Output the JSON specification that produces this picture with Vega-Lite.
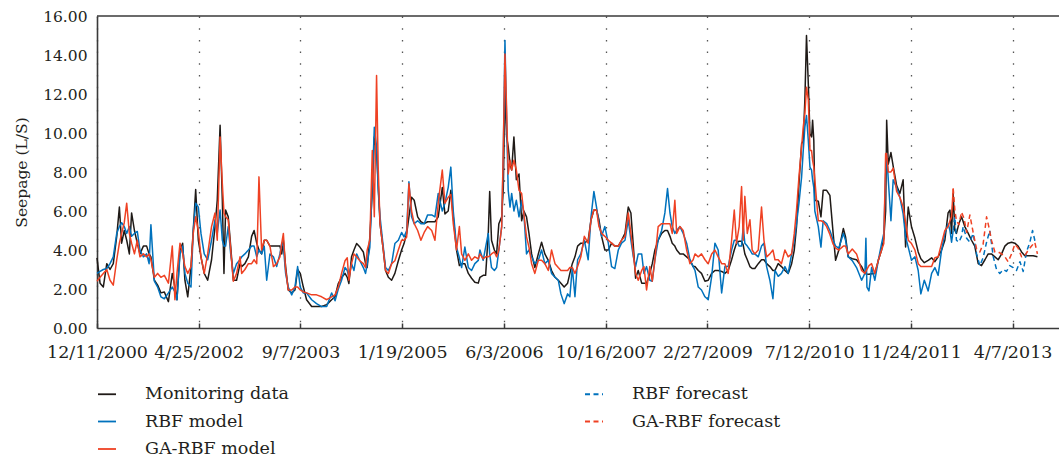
{
"$schema": "https://vega.github.io/schema/vega-lite/v6.json",
"width": 962, "height": 312,
"autosize": "none",
"padding": {"left": 97, "top": 16, "right": 0, "bottom": 135},
"background": "white",
"config": {"view": {"stroke": null}, "font": "DejaVu Serif", "axis": {"labelColor": "#231f20", "titleColor": "#231f20", "labelFont": "DejaVu Serif", "titleFont": "DejaVu Serif"}, "axisY": {"labelOverlap": false}, "legend": {"labelFont": "DejaVu Serif", "labelColor": "#231f20"}},
"layer": [
{
"data": {"values": [
{"day":0,"m":3.6,"r":2.8,"g":2.4},{"day":15,"m":2.3,"r":2.9,"g":2.6},{"day":31,"m":2.1,"r":3.0,"g":2.8},{"day":48,"m":3.3,"r":3.05,"g":3.0},{"day":64,"m":3.0,"r":3.3,"g":2.45},{"day":80,"m":3.3,"r":3.65,"g":2.2},{"day":97,"m":4.7,"r":4.85,"g":3.5},{"day":110,"m":6.2,"r":5.2,"g":4.35},{"day":121,"m":4.35,"r":5.4,"g":4.85},{"day":134,"m":5.0,"r":5.2,"g":5.4},{"day":146,"m":4.5,"r":4.85,"g":6.4},{"day":159,"m":3.8,"r":5.2,"g":4.85},{"day":170,"m":5.9,"r":4.7,"g":4.35},{"day":184,"m":5.0,"r":4.85,"g":3.8},{"day":198,"m":4.35,"r":4.95,"g":4.5},{"day":211,"m":3.8,"r":4.0,"g":3.65},{"day":228,"m":4.2,"r":3.65,"g":3.8},{"day":244,"m":4.2,"r":3.8,"g":3.65},{"day":256,"m":3.8,"r":3.3,"g":3.8},{"day":265,"m":3.65,"r":5.3,"g":3.5},{"day":282,"m":2.45,"r":2.4,"g":2.6},{"day":298,"m":2.2,"r":2.1,"g":2.8},{"day":314,"m":1.8,"r":1.6,"g":2.6},{"day":331,"m":1.85,"r":1.5,"g":2.7},{"day":351,"m":1.35,"r":1.8,"g":2.3},{"day":370,"m":2.8,"r":2.1,"g":4.2},{"day":383,"m":2.1,"r":1.85,"g":1.45},{"day":393,"m":1.45,"r":1.45,"g":2.8},{"day":408,"m":4.0,"r":3.8,"g":4.35},{"day":421,"m":4.35,"r":4.2,"g":3.8},{"day":432,"m":2.45,"r":2.8,"g":3.15},{"day":446,"m":1.6,"r":2.3,"g":2.8},{"day":462,"m":3.15,"r":2.1,"g":3.15},{"day":473,"m":5.0,"r":5.0,"g":4.85},{"day":485,"m":7.1,"r":6.4,"g":5.7},{"day":498,"m":4.5,"r":6.2,"g":5.0},{"day":511,"m":3.65,"r":4.85,"g":3.65},{"day":527,"m":2.8,"r":3.8,"g":2.8},{"day":544,"m":2.45,"r":3.5,"g":3.8},{"day":563,"m":3.5,"r":4.5,"g":5.2},{"day":580,"m":5.2,"r":5.55,"g":5.9},{"day":591,"m":6.55,"r":4.85,"g":4.5},
{"day":605,"m":10.4,"r":6.05,"g":9.8},{"day":616,"m":6.55,"r":4.5,"g":7.4},{"day":624,"m":2.8,"r":4.2,"g":5.9},{"day":632,"m":6.05,"r":4.2,"g":5.7},{"day":645,"m":5.7,"r":5.2,"g":5.55},{"day":657,"m":4.2,"r":3.8,"g":4.0},{"day":670,"m":2.45,"r":2.8,"g":2.4},{"day":686,"m":2.45,"r":3.3,"g":2.8},{"day":703,"m":3.3,"r":3.5,"g":3.65},{"day":711,"m":3.15,"r":3.65,"g":2.8},{"day":727,"m":3.3,"r":3.8,"g":3.0},{"day":744,"m":3.65,"r":4.0,"g":3.3},{"day":760,"m":4.7,"r":4.2,"g":3.3},{"day":772,"m":5.0,"r":4.2,"g":3.5},{"day":785,"m":4.35,"r":3.65,"g":3.3},{"day":796,"m":4.0,"r":4.0,"g":7.75},{"day":809,"m":3.8,"r":3.8,"g":4.0},{"day":822,"m":4.5,"r":4.2,"g":4.5},{"day":834,"m":4.5,"r":2.45,"g":4.5},{"day":850,"m":4.2,"r":3.8,"g":4.2},{"day":867,"m":4.2,"r":3.65,"g":3.15},{"day":883,"m":4.2,"r":3.15,"g":3.3},{"day":899,"m":4.2,"r":3.8,"g":3.65},{"day":908,"m":3.8,"r":4.35,"g":4.35},{"day":916,"m":4.5,"r":4.2,"g":4.85},{"day":927,"m":3.15,"r":2.8,"g":3.0},{"day":940,"m":1.95,"r":2.1,"g":1.95},{"day":957,"m":1.8,"r":1.7,"g":1.95},{"day":973,"m":1.95,"r":2.1,"g":2.1},{"day":986,"m":3.0,"r":3.15,"g":2.1},{"day":999,"m":2.8,"r":2.1,"g":1.95},{"day":1014,"m":2.1,"r":1.8,"g":1.85},{"day":1030,"m":1.45,"r":1.8,"g":1.8},{"day":1055,"m":1.1,"r":1.45,"g":1.7},{"day":1079,"m":1.1,"r":1.25,"g":1.7},{"day":1104,"m":1.1,"r":1.1,"g":1.6},{"day":1129,"m":1.2,"r":1.1,"g":1.45},{"day":1153,"m":1.45,"r":1.8,"g":1.6},
{"day":1170,"m":1.6,"r":1.4,"g":1.7},{"day":1186,"m":2.28,"r":2.0,"g":2.1},{"day":1202,"m":2.6,"r":2.45,"g":2.8},{"day":1219,"m":2.8,"r":3.1,"g":3.45},{"day":1230,"m":2.6,"r":2.95,"g":3.6},{"day":1238,"m":2.28,"r":2.6,"g":2.45},{"day":1251,"m":3.65,"r":3.3,"g":3.3},{"day":1263,"m":4.0,"r":2.95,"g":3.8},{"day":1276,"m":4.33,"r":3.8,"g":3.65},{"day":1292,"m":4.15,"r":3.45,"g":3.45},{"day":1309,"m":3.9,"r":3.1,"g":3.3},{"day":1320,"m":3.3,"r":2.8,"g":3.1},{"day":1328,"m":3.1,"r":3.3,"g":4.0},{"day":1341,"m":4.67,"r":4.15,"g":4.5},{"day":1353,"m":7.06,"r":7.4,"g":9.1},{"day":1363,"m":9.8,"r":10.3,"g":5.7},{"day":1374,"m":9.1,"r":9.3,"g":12.95},{"day":1382,"m":7.4,"r":7.06,"g":8.25},{"day":1391,"m":5.35,"r":5.7,"g":5.35},{"day":1407,"m":4.0,"r":4.15,"g":4.0},{"day":1418,"m":2.95,"r":3.1,"g":2.95},{"day":1432,"m":2.6,"r":2.95,"g":2.8},{"day":1448,"m":2.45,"r":3.3,"g":3.3},{"day":1464,"m":2.8,"r":4.33,"g":3.45},{"day":1481,"m":3.45,"r":4.5,"g":4.0},{"day":1497,"m":4.0,"r":4.9,"g":4.5},{"day":1509,"m":4.33,"r":4.67,"g":4.5},{"day":1522,"m":4.85,"r":5.0,"g":4.67},{"day":1533,"m":5.7,"r":7.5,"g":7.4},{"day":1546,"m":6.7,"r":5.7,"g":6.0},{"day":1559,"m":6.55,"r":5.35,"g":5.35},{"day":1576,"m":5.7,"r":5.5,"g":5.0},{"day":1592,"m":5.45,"r":5.35,"g":4.5},{"day":1608,"m":5.35,"r":5.35,"g":4.9},{"day":1625,"m":5.45,"r":5.8,"g":5.2},{"day":1645,"m":5.45,"r":5.8,"g":5.0},{"day":1661,"m":5.45,"r":5.7,"g":4.5},{"day":1677,"m":5.7,"r":6.9,"g":6.4},{"day":1697,"m":7.2,"r":6.0,"g":8.1},{"day":1710,"m":5.85,"r":6.4,"g":6.4},{"day":1726,"m":6.0,"r":7.2,"g":6.7},{"day":1739,"m":7.06,"r":8.25,"g":6.85},{"day":1751,"m":5.7,"r":6.0,"g":5.35},{"day":1767,"m":4.0,"r":4.15,"g":4.0},
{"day":1781,"m":3.2,"r":3.6,"g":5.2},{"day":1792,"m":3.3,"r":3.1,"g":3.8},{"day":1808,"m":3.3,"r":4.15,"g":3.47},{"day":1825,"m":2.8,"r":3.1,"g":3.8},{"day":1841,"m":2.55,"r":2.95,"g":3.47},{"day":1857,"m":2.35,"r":3.3,"g":3.65},{"day":1874,"m":2.3,"r":3.47,"g":3.55},{"day":1882,"m":2.6,"r":4.0,"g":3.8},{"day":1898,"m":2.7,"r":3.47,"g":3.55},{"day":1910,"m":2.7,"r":4.15,"g":3.65},{"day":1923,"m":4.85,"r":4.85,"g":3.65},{"day":1930,"m":7.0,"r":3.8,"g":3.7},{"day":1939,"m":4.5,"r":3.1,"g":3.8},{"day":1953,"m":4.0,"r":2.95,"g":3.9},{"day":1964,"m":3.8,"r":3.1,"g":3.65},{"day":1975,"m":5.35,"r":4.0,"g":4.0},{"day":1989,"m":5.7,"r":5.2,"g":5.2},{"day":1997,"m":7.2,"r":8.9,"g":9.3},{"day":2005,"m":12.35,"r":14.75,"g":14.05},{"day":2013,"m":9.8,"r":10.65,"g":11.3},{"day":2021,"m":9.3,"r":7.06,"g":7.9},{"day":2030,"m":8.4,"r":6.2,"g":8.6},{"day":2038,"m":8.1,"r":6.9,"g":8.1},{"day":2049,"m":9.8,"r":6.0,"g":8.6},{"day":2061,"m":7.6,"r":6.55,"g":8.1},{"day":2074,"m":7.9,"r":5.7,"g":7.06},{"day":2087,"m":5.5,"r":6.55,"g":6.9},{"day":2098,"m":6.0,"r":5.85,"g":5.85},{"day":2111,"m":5.7,"r":3.8,"g":4.67},{"day":2123,"m":4.85,"r":4.0,"g":4.15},{"day":2136,"m":3.8,"r":3.65,"g":3.3},{"day":2152,"m":3.1,"r":3.3,"g":2.8},{"day":2169,"m":3.8,"r":3.47,"g":3.47},{"day":2185,"m":4.4,"r":4.0,"g":3.47},{"day":2201,"m":3.8,"r":3.3,"g":3.3},{"day":2218,"m":3.47,"r":3.47,"g":2.95},{"day":2234,"m":2.95,"r":2.8,"g":4.0},{"day":2251,"m":2.6,"r":2.6,"g":3.3},{"day":2267,"m":2.45,"r":2.45,"g":3.1},{"day":2280,"m":2.3,"r":1.75,"g":2.95},{"day":2296,"m":2.1,"r":1.25,"g":2.95},{"day":2313,"m":2.3,"r":1.75,"g":2.95},{"day":2324,"m":2.8,"r":1.6,"g":3.1},{"day":2336,"m":3.3,"r":3.1,"g":3.1},
{"day":2349,"m":3.65,"r":1.6,"g":2.8},{"day":2362,"m":4.2,"r":3.5,"g":3.15},{"day":2378,"m":4.35,"r":3.8,"g":3.65},{"day":2395,"m":4.35,"r":4.5,"g":4.7},{"day":2414,"m":4.5,"r":3.5,"g":4.35},{"day":2428,"m":5.55,"r":5.7,"g":5.55},{"day":2442,"m":6.05,"r":7.0,"g":6.05},{"day":2455,"m":6.05,"r":6.2,"g":6.05},{"day":2467,"m":5.55,"r":5.35,"g":5.2},{"day":2480,"m":4.7,"r":4.7,"g":4.85},{"day":2496,"m":4.0,"r":5.2,"g":4.7},{"day":2513,"m":4.0,"r":4.35,"g":4.5},{"day":2529,"m":4.35,"r":3.15,"g":4.35},{"day":2545,"m":4.2,"r":3.05,"g":4.2},{"day":2562,"m":4.2,"r":4.0,"g":4.2},{"day":2578,"m":4.5,"r":4.35,"g":4.5},{"day":2595,"m":4.85,"r":4.5,"g":4.7},{"day":2611,"m":6.2,"r":5.55,"g":5.9},{"day":2624,"m":5.9,"r":4.5,"g":4.85},{"day":2636,"m":4.2,"r":3.65,"g":3.8},{"day":2647,"m":2.55,"r":3.15,"g":2.8},{"day":2660,"m":2.95,"r":3.8,"g":2.45},{"day":2677,"m":2.3,"r":3.8,"g":2.95},{"day":2688,"m":2.3,"r":2.8,"g":3.15},{"day":2701,"m":2.3,"r":3.15,"g":1.95},{"day":2717,"m":2.8,"r":2.45,"g":3.15},{"day":2729,"m":3.3,"r":2.4,"g":2.4},{"day":2742,"m":4.0,"r":3.5,"g":3.5},{"day":2758,"m":4.5,"r":4.5,"g":5.2},{"day":2775,"m":4.85,"r":5.0,"g":5.35},{"day":2791,"m":5.0,"r":5.9,"g":5.35},{"day":2804,"m":5.0,"r":7.15,"g":5.35},{"day":2816,"m":4.7,"r":5.9,"g":5.35},{"day":2827,"m":4.35,"r":5.2,"g":4.85},{"day":2840,"m":4.2,"r":4.85,"g":6.55},{"day":2849,"m":4.0,"r":5.0,"g":4.85},{"day":2865,"m":3.8,"r":5.2,"g":5.2},{"day":2881,"m":3.8,"r":4.85,"g":5.0},{"day":2898,"m":3.65,"r":4.35,"g":4.0},{"day":2914,"m":3.5,"r":3.5,"g":3.3},{"day":2930,"m":3.15,"r":3.15,"g":3.5},
{"day":2939,"m":3.15,"r":2.95,"g":3.8},{"day":2955,"m":2.95,"r":2.1,"g":3.65},{"day":2971,"m":2.8,"r":1.95,"g":3.8},{"day":2988,"m":2.4,"r":1.6,"g":3.5},{"day":3004,"m":2.45,"r":1.45,"g":3.3},{"day":3021,"m":2.8,"r":2.65,"g":3.8},{"day":3037,"m":2.95,"r":4.35,"g":4.0},{"day":3053,"m":2.95,"r":4.0,"g":3.65},{"day":3070,"m":2.9,"r":1.8,"g":3.3},{"day":3086,"m":2.8,"r":3.15,"g":3.3},{"day":3102,"m":2.95,"r":3.15,"g":2.8},{"day":3119,"m":3.5,"r":4.0,"g":4.5},{"day":3132,"m":4.0,"r":4.5,"g":6.05},{"day":3143,"m":4.35,"r":4.5,"g":4.35},{"day":3156,"m":4.45,"r":4.2,"g":5.2},{"day":3168,"m":4.45,"r":4.2,"g":7.25},{"day":3176,"m":4.25,"r":5.2,"g":4.5},{"day":3184,"m":3.8,"r":4.35,"g":6.75},{"day":3196,"m":3.5,"r":4.2,"g":4.85},{"day":3209,"m":3.15,"r":4.0,"g":5.55},{"day":3220,"m":3.05,"r":3.8,"g":4.0},{"day":3233,"m":3.05,"r":3.8,"g":3.8},{"day":3250,"m":3.3,"r":3.65,"g":4.0},{"day":3266,"m":3.5,"r":4.2,"g":6.2},{"day":3278,"m":3.5,"r":4.35,"g":4.5},{"day":3291,"m":3.3,"r":3.15,"g":3.65},{"day":3307,"m":3.15,"r":2.45,"g":3.8},{"day":3322,"m":2.95,"r":1.5,"g":4.0},{"day":3332,"m":2.95,"r":2.95,"g":3.5},{"day":3348,"m":3.3,"r":2.65,"g":3.5},{"day":3364,"m":3.15,"r":2.8,"g":3.3},{"day":3381,"m":2.95,"r":3.15,"g":4.0},{"day":3397,"m":2.8,"r":2.8,"g":3.65},{"day":3414,"m":3.3,"r":3.8,"g":3.8},{"day":3427,"m":4.0,"r":4.5,"g":4.85},{"day":3438,"m":5.2,"r":5.35,"g":6.05},{"day":3450,"m":7.4,"r":6.4,"g":7.75},{"day":3463,"m":9.45,"r":7.75,"g":9.3},
{"day":3471,"m":9.6,"r":9.1,"g":10.3},{"day":3479,"m":11.7,"r":10.3,"g":11.0},{"day":3487,"m":15.0,"r":10.9,"g":12.35},{"day":3496,"m":12.5,"r":9.6,"g":11.7},{"day":3504,"m":9.95,"r":8.25,"g":9.1},{"day":3512,"m":9.8,"r":8.1,"g":9.1},{"day":3517,"m":10.65,"r":7.6,"g":8.6},{"day":3523,"m":9.6,"r":7.2,"g":8.25},
{"day":3528,"m":6.55,"r":6.0,"g":7.6},{"day":3545,"m":6.5,"r":5.2,"g":5.5},{"day":3558,"m":5.7,"r":4.15,"g":5.5},{"day":3569,"m":7.06,"r":5.5,"g":5.45},{"day":3586,"m":7.06,"r":5.35,"g":5.2},{"day":3602,"m":6.8,"r":5.0,"g":4.8},{"day":3618,"m":4.85,"r":4.5,"g":4.3},{"day":3630,"m":3.47,"r":4.2,"g":4.1},{"day":3646,"m":4.0,"r":4.1,"g":4.0},{"day":3668,"m":5.1,"r":4.85,"g":4.2},{"day":3679,"m":4.67,"r":4.5,"g":4.2},{"day":3692,"m":3.65,"r":3.65,"g":3.8},{"day":3712,"m":3.55,"r":3.45,"g":4.05},{"day":3733,"m":3.5,"r":3.1,"g":3.8},{"day":3758,"m":3.15,"r":2.45,"g":2.95},{"day":3774,"m":2.8,"r":2.8,"g":2.8},{"day":3779,"m":2.78,"r":4.6,"g":2.9},{"day":3784,"m":2.77,"r":2.1,"g":3.0},{"day":3794,"m":2.76,"r":1.9,"g":3.2},{"day":3807,"m":2.78,"r":3.1,"g":3.3},{"day":3823,"m":2.8,"r":2.45,"g":2.8},{"day":3840,"m":3.47,"r":3.47,"g":3.47},{"day":3856,"m":4.0,"r":4.33,"g":4.0},{"day":3867,"m":4.6,"r":4.85,"g":4.33},{"day":3876,"m":6.0,"r":7.9,"g":8.95},{"day":3881,"m":10.65,"r":8.95,"g":8.95},{"day":3889,"m":8.4,"r":7.6,"g":8.0},{"day":3902,"m":9.0,"r":5.5,"g":8.0},{"day":3913,"m":8.3,"r":7.6,"g":8.2},{"day":3930,"m":7.3,"r":7.2,"g":7.0},{"day":3946,"m":6.9,"r":6.7,"g":6.7},{"day":3962,"m":7.6,"r":5.85,"g":6.2},{"day":3974,"m":4.15,"r":4.67,"g":5.4},{"day":3987,"m":6.2,"r":4.15,"g":4.5},{"day":4003,"m":5.2,"r":3.47,"g":4.33},{"day":4020,"m":4.6,"r":3.65,"g":4.0},{"day":4036,"m":3.9,"r":2.95,"g":3.3},{"day":4049,"m":3.55,"r":1.75,"g":3.15},{"day":4066,"m":3.35,"r":2.45,"g":3.15},{"day":4085,"m":3.47,"r":1.9,"g":3.15},{"day":4102,"m":3.6,"r":2.8,"g":3.15},
{"day":4118,"m":3.4,"r":3.1,"g":3.6},{"day":4134,"m":3.65,"r":2.7,"g":3.65},{"day":4151,"m":4.0,"r":4.0,"g":4.35},{"day":4167,"m":4.5,"r":4.85,"g":5.0},{"day":4183,"m":5.9,"r":5.35,"g":5.2},{"day":4192,"m":6.05,"r":5.0,"g":5.5},{"day":4200,"m":4.85,"r":4.4,"g":5.7},{"day":4208,"m":6.9,"r":5.0,"g":7.15,"rf":5.0,"gf":7.15},
{"day":4216,"m":5.0,"rf":5.7,"gf":6.05},{"day":4224,"m":4.85,"rf":4.5,"gf":5.5},{"day":4236,"m":5.35,"rf":4.4,"gf":5.3},{"day":4249,"m":5.7,"rf":4.7,"gf":5.95},{"day":4257,"rf":5.2},{"day":4262,"gf":5.6},{"day":4265,"m":5.2},{"day":4274,"rf":4.6,"gf":4.9},{"day":4282,"m":4.85},{"day":4290,"rf":4.4,"gf":5.8},{"day":4298,"m":4.5},{"day":4306,"rf":4.85,"gf":4.9},{"day":4314,"m":4.2},{"day":4323,"rf":3.8,"gf":4.05},{"day":4331,"m":3.3},{"day":4339,"rf":3.2,"gf":3.9},{"day":4347,"m":3.2},{"day":4355,"rf":3.6,"gf":4.3},{"day":4364,"m":3.5},{"day":4372,"rf":4.4,"gf":5.7},{"day":4380,"m":3.8},{"day":4383,"gf":5.2},{"day":4388,"rf":5.0},{"day":4396,"m":3.8,"gf":4.5},{"day":4405,"rf":3.65},{"day":4413,"m":3.65,"gf":3.9},{"day":4421,"rf":3.0},{"day":4429,"m":3.5,"gf":3.9},{"day":4437,"rf":2.8},{"day":4446,"m":3.8,"gf":3.8},{"day":4454,"rf":3.0},{"day":4462,"m":4.2,"gf":3.65},{"day":4470,"rf":2.9},{"day":4478,"m":4.35,"gf":3.4},{"day":4486,"rf":3.2},{"day":4495,"m":4.4,"gf":3.8},{"day":4503,"rf":3.1},{"day":4511,"m":4.35,"gf":4.3},{"day":4519,"rf":2.95},{"day":4527,"m":4.2,"gf":4.1},{"day":4536,"rf":3.4},{"day":4544,"m":3.9,"gf":3.65},{"day":4552,"rf":2.9},{"day":4560,"m":3.7,"gf":3.7},{"day":4568,"rf":3.9},{"day":4577,"m":3.7,"gf":4.0},{"day":4585,"rf":4.4},{"day":4593,"gf":4.2},{"day":4598,"rf":5.0},{"day":4601,"m":3.7},{"day":4609,"rf":4.5,"gf":4.4},{"day":4622,"m":3.65,"rf":4.6,"gf":3.8}
]},
"transform": [
{"fold": ["m", "r", "g", "rf", "gf"], "as": ["s", "v"]},
{"filter": "isValid(datum.v)"}
],
"mark": {"type": "line", "strokeWidth": 1.5, "strokeJoin": "round", "strokeCap": "butt"},
"encoding": {
"x": {"field": "day", "type": "quantitative",
 "scale": {"domain": [0, 4728], "nice": false, "zero": false},
 "axis": {"title": null, "values": [0,500,1000,1500,2000,2500,3000,3500,4000,4500],
  "labelExpr": "timeFormat(datetime(2000, 11, 11 + datum.value), '%-m/%-d/%Y')",
  "grid": true, "gridDash": [1.5, 10.2], "gridColor": "#555555", "gridWidth": 1.3,
  "tickSize": -5, "tickColor": "#3a3a3a", "tickWidth": 1.5,
  "domainColor": "#3a3a3a", "domainWidth": 1.6,
  "labelFontSize": 17.5, "labelPadding": 20, "labelFlush": false, "labelOverlap": false}},
"y": {"field": "v", "type": "quantitative",
 "scale": {"domain": [0, 16], "nice": false},
 "axis": {"title": "Seepage (L/S)", "values": [0,2,4,6,8,10,12,14,16], "format": ".2f",
  "grid": false, "ticks": false, "domainColor": "#3a3a3a", "domainWidth": 1.6, "labelOverlap": false,
  "labelFontSize": 15.5, "labelPadding": 10, "titleFontSize": 15.5, "titleFontWeight": "normal", "titlePadding": 13}},
"color": {"field": "s", "type": "nominal",
 "scale": {"domain": ["m", "r", "g", "rf", "gf"], "range": ["#1f1a17", "#0072bd", "#ef4123", "#0072bd", "#ef4123"]},
 "legend": {"orient": "none", "legendX": 0, "legendY": 368, "columns": 2, "columnPadding": 292, "rowPadding": 8.5,
  "title": null, "symbolType": "stroke", "symbolSize": 324, "symbolStrokeWidth": 1.8, "labelFontSize": 17.5, "labelOffset": 28,
  "symbolDash": {"expr": "indexof(['rf','gf'], datum.value) >= 0 ? [5, 3.5] : []"},
  "labelExpr": "datum.label == 'm' ? 'Monitoring data' : datum.label == 'r' ? 'RBF model' : datum.label == 'g' ? 'GA-RBF model' : datum.label == 'rf' ? 'RBF forecast' : 'GA-RBF forecast'"}},
"strokeDash": {"field": "s", "type": "nominal",
 "scale": {"domain": ["m", "r", "g", "rf", "gf"], "range": [[], [], [], [5, 3.5], [5, 3.5]]},
 "legend": null}
}
},
{
"data": {"values": [{}]},
"mark": {"type": "rule", "color": "#3a3a3a", "strokeWidth": 1.5},
"encoding": {"y": {"datum": 16, "type": "quantitative", "axis": {"title": "Seepage (L/S)", "values": [0,2,4,6,8,10,12,14,16], "format": ".2f",
  "grid": false, "ticks": false, "domainColor": "#3a3a3a", "domainWidth": 1.6, "labelOverlap": false,
  "labelFontSize": 15.5, "labelPadding": 10, "titleFontSize": 15.5, "titleFontWeight": "normal", "titlePadding": 13}}}
}
]
}
